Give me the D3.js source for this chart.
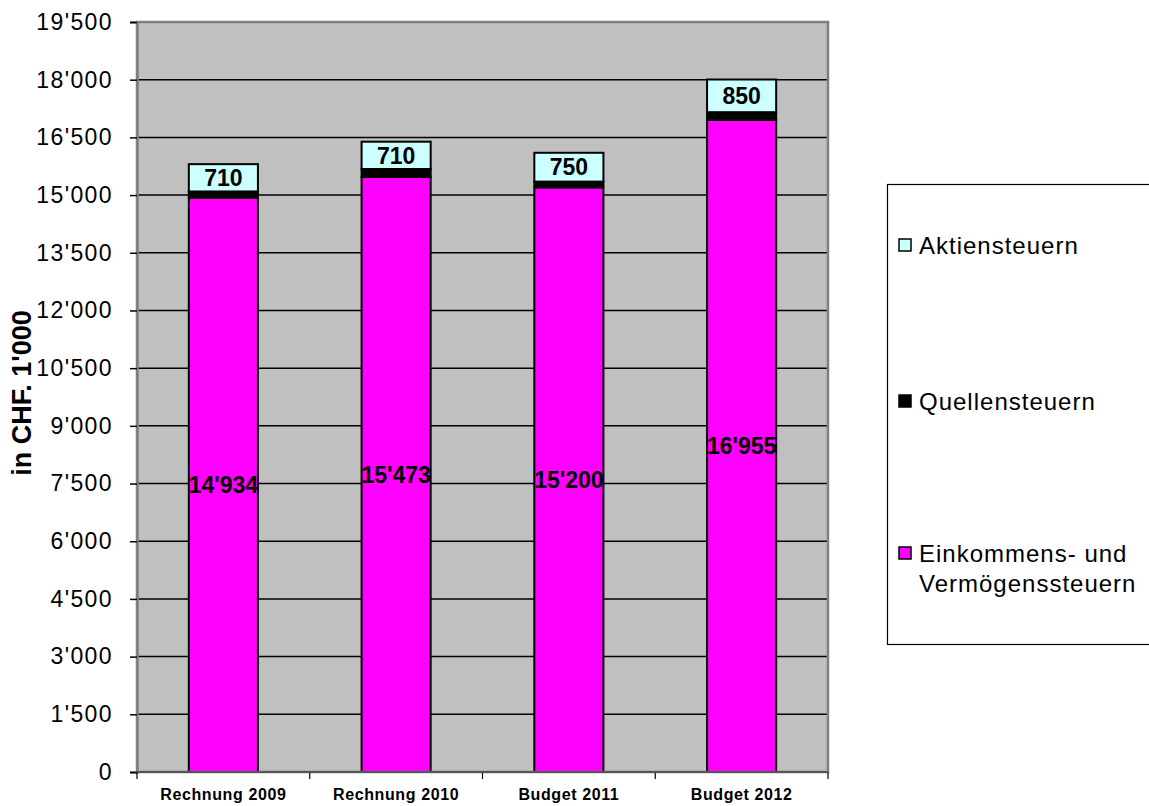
<!DOCTYPE html>
<html><head><meta charset="utf-8">
<script src="https://cdn.jsdelivr.net/npm/d3@7"></script>
<style>
html,body{margin:0;padding:0;background:#fff;}
svg{display:block;font-family:"Liberation Sans",Arial,sans-serif;}
</style></head>
<body><svg id="c" width="1149" height="806"></svg>
<script>
const categories = ["Rechnung 2009", "Rechnung 2010", "Budget 2011", "Budget 2012"];
const einkommen = [14934, 15473, 15200, 16955];
const quellen = [160, 205, 150, 200];
const aktien = [710, 710, 750, 850];
const seriesNames = ["Einkommens- und Vermögenssteuern", "Quellensteuern", "Aktiensteuern"];
const seriesColors = ["#FF00FF", "#000000", "#CCFFFF"];
const yTickValues = [0, 1500, 3000, 4500, 6000, 7500, 9000, 10500, 12000, 13500, 15000, 16500, 18000, 19500];
const yTitle = "in CHF. 1'000";

const svg = d3.select("#c");
const L = 137, R = 828, T = 22, B = 772;
const x = d3.scaleBand().domain(categories).range([L, R]).paddingInner(0.6).paddingOuter(0.3);
const y = d3.scaleLinear().domain([0, 19500]).range([B, T]);
const loc = d3.formatLocale({decimal: ".", thousands: "'", grouping: [3], currency: ["", ""]});
const fmt = loc.format(",");

// plot background
svg.append("rect").attr("x", L).attr("y", T).attr("width", R - L).attr("height", B - T).attr("fill", "#C0C0C0");

// gridlines
svg.append("g").selectAll("line").data(yTickValues.filter(v => v > 0 && v < 19500)).join("line")
  .attr("x1", L).attr("x2", R).attr("y1", d => y(d)).attr("y2", d => y(d))
  .attr("stroke", "#000").attr("stroke-width", 1.5);

// stacked data
const rows = categories.map((c, i) => ({cat: c, e: einkommen[i], q: quellen[i], a: aktien[i]}));
const stack = d3.stack().keys(["e", "q", "a"])(rows);

const g = svg.append("g");
stack.forEach((layer, li) => {
  g.append("g").selectAll("rect").data(layer).join("rect")
    .attr("x", d => x(d.data.cat))
    .attr("width", x.bandwidth())
    .attr("y", d => y(d[1]))
    .attr("height", d => y(d[0]) - y(d[1]))
    .attr("fill", seriesColors[li])
    .attr("stroke", "#000").attr("stroke-width", 2);
});

// labels for einkommen & aktien
[0, 2].forEach(li => {
  svg.append("g").selectAll("text").data(stack[li]).join("text")
    .attr("x", d => x(d.data.cat) + x.bandwidth() / 2)
    .attr("y", d => (y(d[0]) + y(d[1])) / 2)
    .attr("dy", "0.36em")
    .attr("text-anchor", "middle")
    .attr("font-weight", "bold").attr("font-size", 23)
    .attr("fill", "#000")
    .text(d => fmt(d[1] - d[0]));
});

// plot border
svg.append("rect").attr("x", L).attr("y", T).attr("width", R - L).attr("height", B - T)
  .attr("fill", "none").attr("stroke", "#808080").attr("stroke-width", 2.5);

// y axis
const yAxis = svg.append("g").attr("transform", `translate(${L},0)`)
  .call(d3.axisLeft(y).tickValues(yTickValues).tickFormat(fmt).tickSize(7).tickPadding(17));
yAxis.select(".domain").attr("stroke", "#808080").attr("stroke-width", 2.5);
yAxis.selectAll(".tick line").attr("stroke", "#000").attr("stroke-width", 1.5);
yAxis.selectAll(".tick text").attr("font-size", 23).attr("fill", "#000")
  .attr("letter-spacing", "1.4px")
  .attr("font-family", "'Liberation Sans',Arial,sans-serif");

// x axis ticks at category boundaries
const bounds = categories.map(c => x(c) - x.step() * x.paddingInner() / 2).concat([R]);
svg.append("g").selectAll("line").data(bounds).join("line")
  .attr("x1", d => d).attr("x2", d => d).attr("y1", B).attr("y2", B + 7)
  .attr("stroke", "#000").attr("stroke-width", 1.2);
svg.append("line").attr("x1", L).attr("x2", R).attr("y1", B).attr("y2", B)
  .attr("stroke", "#555").attr("stroke-width", 2);
svg.append("g").selectAll("text").data(categories).join("text")
  .attr("x", d => x(d) + x.bandwidth() / 2).attr("y", 800)
  .attr("text-anchor", "middle").attr("font-weight", "bold").attr("font-size", 16)
  .attr("letter-spacing", "0.6px")
  .text(d => d);

// y title
svg.append("text").attr("transform", "translate(31,393) rotate(-90)")
  .attr("text-anchor", "middle").attr("font-weight", "bold").attr("font-size", 27)
  .text(yTitle);

// legend
svg.append("rect").attr("x", 887.5).attr("y", 184.5).attr("width", 270).attr("height", 460)
  .attr("fill", "#fff").attr("stroke", "#000").attr("stroke-width", 1.2);
const legendItems = [
  {name: seriesNames[2], color: seriesColors[2], y: 245, lines: ["Aktiensteuern"]},
  {name: seriesNames[1], color: seriesColors[1], y: 401, lines: ["Quellensteuern"]},
  {name: seriesNames[0], color: seriesColors[0], y: 553, lines: ["Einkommens- und", "Vermögenssteuern"]}
];
const lg = svg.append("g").selectAll("g").data(legendItems).join("g");
lg.append("rect").attr("x", 899).attr("y", d => d.y - 6).attr("width", 12).attr("height", 12)
  .attr("fill", d => d.color).attr("stroke", "#000").attr("stroke-width", 1.5);
lg.append("text").attr("x", 919).attr("y", d => d.y).attr("font-size", 24).attr("fill", "#000")
  .attr("letter-spacing", "1px")
  .selectAll("tspan").data(d => d.lines).join("tspan")
  .attr("x", 919).attr("dy", (d, i) => i === 0 ? "0.36em" : "1.25em").text(d => d);
</script></body></html>
